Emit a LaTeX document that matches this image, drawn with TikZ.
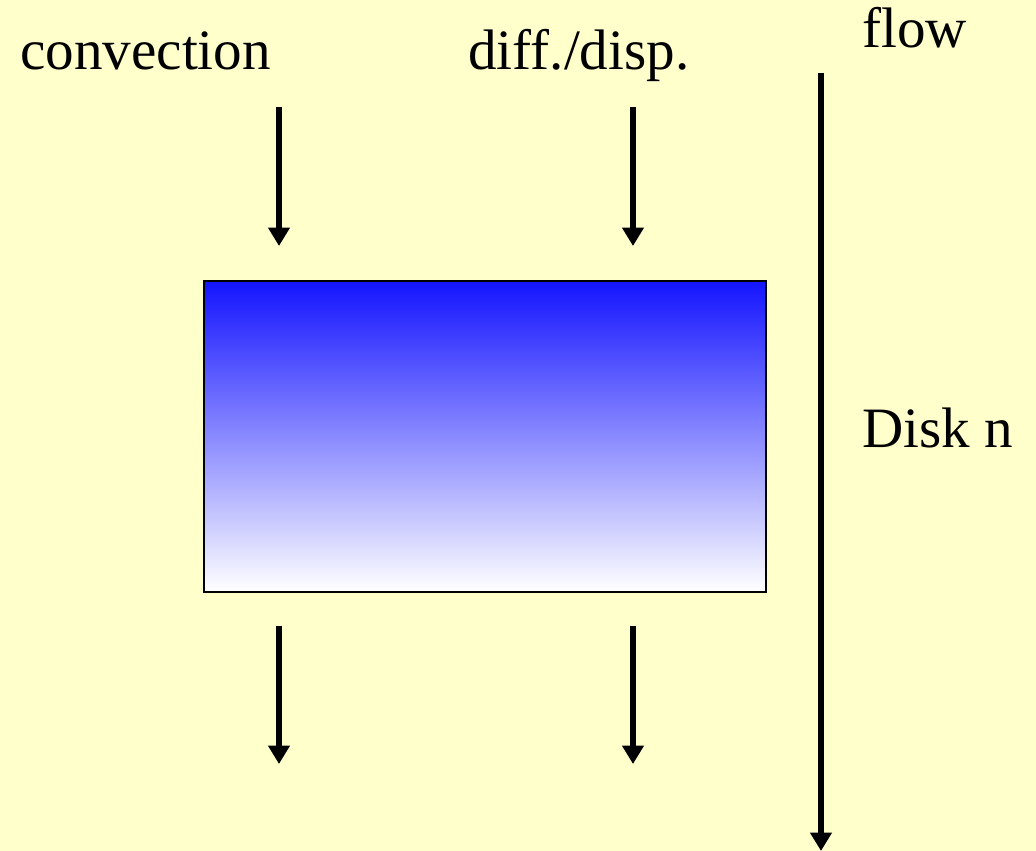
\documentclass[tikz,border=0pt]{standalone}
\usepackage{fontspec}
\setmainfont{Liberation Serif}
\usetikzlibrary{arrows.meta,positioning}
\definecolor{paperYellow}{RGB}{255,255,204}
\definecolor{diskBlue}{RGB}{20,20,255}

\begin{document}
\begin{tikzpicture}[x=0.02cm,y=-0.02cm,
    label/.style={font=\fontsize{32.5}{38}\selectfont, inner sep=0pt, anchor=base west},
    fluxarrow/.style={-{Triangle[length=0.37cm,width=0.42cm]}, line width=0.11cm},
    disk/.style={draw, line width=0.055cm, top color=diskBlue, bottom color=white}]
        \fill[paperYellow] (0,0) rectangle (1036,851);
        \useasboundingbox (0,0) rectangle (1036,851);
        \node[label] (conv) at (20,70) {convection};
        \node[label] (diff) at (468,70) {diff./disp.};
        \node[label] (flow) at (862,48) {flow};
        \node[label] (disklabel) at (862,448) {Disk n};
        \node[disk, minimum width=562*0.02cm, minimum height=311*0.02cm, inner sep=0pt] (diskn) at (485,436.5) {};
        % in- and outgoing fluxes
        \coordinate (convin) at (279,107);   \coordinate (convinend) at (279,246);
        \coordinate (diffin) at (633,107);   \coordinate (diffinend) at (633,246);
        \coordinate (convout) at (279,626);  \coordinate (convoutend) at (279,764);
        \coordinate (diffout) at (633,626);  \coordinate (diffoutend) at (633,764);
        \draw[fluxarrow] (convin) -- (convinend);
        \draw[fluxarrow] (diffin) -- (diffinend);
        \draw[fluxarrow] (convout) -- (convoutend);
        \draw[fluxarrow] (diffout) -- (diffoutend);
        % flow direction
        \coordinate (flowtop) at (821,73);
        \coordinate (flowend) at (821,851);
        \draw[fluxarrow] (flowtop) -- (flowend);
      \end{tikzpicture}
\end{document}
